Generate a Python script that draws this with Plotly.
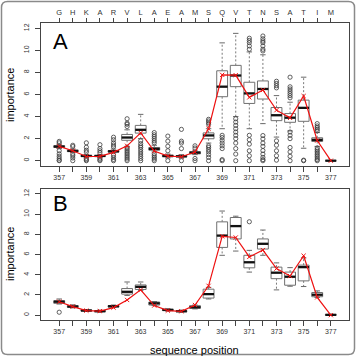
import plotly.graph_objects as go

# ---------------- data ----------------
positions = list(range(357, 378))
residues = ["G", "H", "K", "A", "R", "V", "L", "A", "E", "A", "M",
            "S", "Q", "V", "T", "N", "S", "A", "T", "I", "M"]
tick_labels = [str(p) if p % 2 == 1 else "" for p in positions]
y_ticks = [0, 2, 4, 6, 8, 10, 12]

# Panel A
a_q1 = [1.20, 0.82, 0.38, 0.38, 0.78, 1.85, 2.50, 0.95, 0.36, 0.34, 0.62, 1.99, 5.80, 6.71, 5.19, 5.59, 3.63, 3.48, 3.57, 1.74, 0.0]
a_med = [1.28, 0.89, 0.43, 0.43, 0.85, 2.10, 2.80, 1.07, 0.43, 0.40, 0.73, 2.29, 6.71, 7.72, 6.10, 6.50, 4.12, 3.90, 4.79, 1.89, 0.0]
a_q3 = [1.36, 0.95, 0.48, 0.48, 0.92, 2.38, 3.20, 1.20, 0.50, 0.46, 0.82, 2.52, 8.15, 8.64, 7.11, 7.23, 4.82, 4.27, 5.49, 2.08, 0.0]
a_low = [1.10, 0.75, 0.30, 0.30, 0.70, 1.30, 2.00, 0.80, 0.25, 0.25, 0.55, 1.60, 2.90, 4.00, 2.90, 3.36, 2.14, 2.70, 1.13, 1.30, 0.0]
a_high = [1.50, 1.05, 0.55, 0.55, 1.05, 2.80, 4.20, 1.40, 0.60, 0.55, 0.95, 2.90, 10.68, 11.54, 9.86, 9.60, 5.90, 5.30, 7.57, 2.55, 0.0]
a_mean = [1.30, 0.90, 0.38, 0.40, 0.76, 1.35, 2.52, 0.88, 0.42, 0.36, 0.78, 2.90, 7.78, 7.75, 5.74, 6.41, 4.58, 3.88, 5.86, 1.83, 0.0]
a_outliers = [
    [1.75, 1.62, 0.90, 0.62, 0.40, 0.22, 0.05, 0.0],
    [1.40, 1.28, 0.60, 0.45, 0.25, 0.0],
    [1.62, 1.22, 0.95, 0.78, 0.20, 0.08, 0.0],
    [1.45, 1.10, 0.90, 0.72, 0.22, 0.08, 0.0],
    [2.13, 1.90, 1.62, 1.42, 1.25, 0.50, 0.30, 0.12, 0.0],
    [3.80, 3.40, 3.30, 3.10, 1.20, 1.05, 0.90, 0.75, 0.60, 0.45, 0.30, 0.15, 0.0],
    [1.80, 1.55, 1.35, 1.20, 1.00, 0.80, 0.60, 0.40, 0.20, 0.0],
    [2.55, 2.35, 2.18, 2.00, 1.80, 1.62, 0.62, 0.45, 0.30, 0.15, 0.0],
    [2.23, 1.77, 1.31, 0.90, 0.0],
    [2.84, 1.77, 1.60, 1.10, 0.0],
    [1.35, 1.15, 0.20, 0.0],
    [3.75, 3.60, 3.45, 3.30, 1.35, 1.20, 1.00, 0.80, 0.55, 0.30, 0.0],
    [2.30, 2.10, 1.85, 1.60, 1.35, 1.10, 0.10, 0.0],
    [3.80, 3.50, 3.20, 2.90, 2.60, 2.30, 2.00, 1.60, 1.10, 0.60, 0.0],
    [11.10, 10.90, 10.70, 10.40, 10.10, 2.30, 1.90, 1.50, 0.90, 0.45, 0.0],
    [11.30, 11.05, 10.85, 10.70, 10.40, 10.10, 9.95, 2.28, 1.98, 1.60, 1.30, 0.92, 0.60, 0.30, 0.10, 0.0],
    [7.20, 7.00, 6.80, 6.60, 1.80, 1.40, 0.90, 0.45, 0.05],
    [7.57, 6.70, 6.50, 6.30, 6.10, 5.90, 5.70, 2.60, 2.30, 2.00, 1.20, 0.80, 0.40, 0.0],
    [0.05, 0.0],
    [3.36, 3.15, 3.00, 2.85, 2.70, 1.15, 1.00, 0.85, 0.70, 0.55, 0.40, 0.25, 0.10, 0.0],
    [],
]

# Panel B
b_q1 = [1.17, 0.78, 0.40, 0.34, 0.80, 2.08, 2.54, 1.00, 0.45, 0.33, 0.68, 1.69, 6.70, 7.54, 4.68, 6.54, 3.61, 2.96, 3.39, 1.82, 0.0]
b_med = [1.33, 0.85, 0.46, 0.39, 0.88, 2.31, 2.80, 1.17, 0.52, 0.39, 0.78, 2.08, 7.87, 8.81, 5.23, 7.06, 4.20, 3.80, 4.75, 2.02, 0.03]
b_q3 = [1.43, 0.95, 0.52, 0.45, 0.95, 2.63, 2.99, 1.30, 0.58, 0.45, 0.94, 2.57, 9.23, 9.66, 5.92, 7.54, 4.75, 4.26, 4.95, 2.24, 0.06]
b_low = [1.10, 0.72, 0.36, 0.30, 0.75, 1.95, 2.45, 0.95, 0.40, 0.30, 0.62, 1.60, 5.92, 6.34, 4.26, 5.92, 2.50, 2.86, 2.83, 1.75, 0.0]
b_high = [1.60, 1.02, 0.56, 0.50, 1.00, 3.28, 3.28, 1.35, 0.62, 0.50, 1.00, 2.75, 10.30, 9.79, 6.41, 8.42, 5.17, 4.70, 5.66, 2.40, 0.08]
b_mean = [1.33, 0.85, 0.45, 0.40, 0.75, 1.50, 2.50, 0.95, 0.45, 0.38, 1.00, 2.90, 7.80, 7.68, 5.76, 6.44, 4.61, 3.87, 5.88, 1.76, 0.0]
b_outliers = [[0.29]] + [[] for _ in range(13)] + [[9.24]] + [[] for _ in range(6)]

# ---------------- figure ----------------
W = H = 357
FONT = "Liberation Sans, Arial, Helvetica, sans-serif"
AX = "#444444"
BOXW = 0.8

fig = go.Figure()


def add_panel(q1, med, q3, low, high, mean, outliers, xa, ya):
    fig.add_trace(go.Box(
        x=positions, q1=q1, median=med, q3=q3, lowerfence=q1, upperfence=q3,
        width=BOXW, whiskerwidth=0, boxpoints=False,
        fillcolor="rgba(255,255,255,0)", line=dict(color="#707070", width=1),
        xaxis=xa, yaxis=ya, showlegend=False, hoverinfo="skip"))
    # whiskers (dashed) and staples
    wx, wy, cx, cy = [], [], [], []
    for p, a, b, lo, hi in zip(positions, q1, q3, low, high):
        wx += [p, p, None, p, p, None]
        wy += [b, hi, None, a, lo, None]
        cx += [p - BOXW / 4, p + BOXW / 4, None, p - BOXW / 4, p + BOXW / 4, None]
        cy += [hi, hi, None, lo, lo, None]
    fig.add_trace(go.Scatter(x=wx, y=wy, mode="lines", xaxis=xa, yaxis=ya,
                             line=dict(color="#7a7a7a", width=1, dash="2px,2px"),
                             showlegend=False, hoverinfo="skip"))
    fig.add_trace(go.Scatter(x=cx, y=cy, mode="lines", xaxis=xa, yaxis=ya,
                             line=dict(color="#6a6a6a", width=1),
                             showlegend=False, hoverinfo="skip"))
    # medians
    mx, my = [], []
    for p, m in zip(positions, med):
        mx += [p - BOXW / 2, p + BOXW / 2, None]
        my += [m, m, None]
    fig.add_trace(go.Scatter(x=mx, y=my, mode="lines", xaxis=xa, yaxis=ya,
                             line=dict(color="#111111", width=2.3),
                             showlegend=False, hoverinfo="skip"))
    # outliers
    ox, oy = [], []
    for p, outs in zip(positions, outliers):
        for v in outs:
            ox.append(p)
            oy.append(v)
    fig.add_trace(go.Scatter(x=ox, y=oy, mode="markers", xaxis=xa, yaxis=ya,
                             marker=dict(symbol="circle-open", size=4.2,
                                         color="#3a3a3a", line=dict(width=0.8)),
                             showlegend=False, hoverinfo="skip"))
    # mean line
    fig.add_trace(go.Scatter(x=positions, y=mean, mode="lines+markers",
                             xaxis=xa, yaxis=ya,
                             line=dict(color="#ee1111", width=1.2),
                             marker=dict(symbol="x-thin", size=4.2,
                                         line=dict(color="#ee1111", width=1)),
                             showlegend=False, hoverinfo="skip"))


add_panel(a_q1, a_med, a_q3, a_low, a_high, a_mean, a_outliers, "x", "y")
add_panel(b_q1, b_med, b_q3, b_low, b_high, b_mean, b_outliers, "x2", "y2")

# invisible trace so the top residue axis of panel A is drawn
fig.add_trace(go.Scatter(x=positions, y=a_mean, mode="markers", xaxis="x3", yaxis="y",
                         marker=dict(opacity=0), showlegend=False, hoverinfo="skip"))

xr = [355.66, 378.34]
yr = [-0.48, 12.48]
xdom = [41 / W, 349 / W]

common_x = dict(range=xr, tickmode="array", tickvals=positions, ticks="outside",
                ticklen=5, tickcolor=AX, tickwidth=1, showline=True, linecolor=AX,
                linewidth=1, mirror=True, showgrid=False, zeroline=False,
                tickfont=dict(size=7, color="#333333", family=FONT))
common_y = dict(range=yr, tickmode="array", tickvals=y_ticks, ticks="outside",
                ticklen=5, tickcolor=AX, tickwidth=1, showline=True, linecolor=AX,
                linewidth=1, mirror=True, showgrid=False, zeroline=False,
                tickangle=-90, ticklabelstandoff=3,
                tickfont=dict(size=7, color="#333333", family=FONT))

fig.update_layout(
    width=W, height=H, margin=dict(l=0, r=0, t=0, b=0),
    paper_bgcolor="white", plot_bgcolor="white", hovermode=False,
    font=dict(family=FONT),
    xaxis=dict(common_x, domain=xdom, anchor="y", ticktext=tick_labels),
    yaxis=dict(common_y, domain=[1 - 166 / H, 1 - 23 / H], anchor="x"),
    xaxis2=dict(common_x, domain=xdom, anchor="y2", ticktext=tick_labels),
    yaxis2=dict(common_y, domain=[1 - 320 / H, 1 - 189 / H], anchor="x2"),
    xaxis3=dict(range=xr, overlaying="x", side="top", anchor="y",
                tickmode="array", tickvals=positions, ticktext=residues,
                ticks="outside", ticklen=4, tickcolor=AX, tickwidth=1,
                showline=False, showgrid=False, zeroline=False,
                tickfont=dict(size=7.5, color="#333333", family=FONT)),
)

annotations = [
    dict(text="A", x=51 / W, y=1 - 41 / H, xanchor="left", yanchor="middle",
         font=dict(size=22, color="black", family=FONT)),
    dict(text="B", x=51 / W, y=1 - 203 / H, xanchor="left", yanchor="middle",
         font=dict(size=22, color="black", family=FONT)),
    dict(text="importance", x=10 / W, y=1 - 95 / H, textangle=-90,
         xanchor="center", yanchor="middle",
         font=dict(size=11, color="black", family=FONT)),
    dict(text="importance", x=10 / W, y=1 - 254 / H, textangle=-90,
         xanchor="center", yanchor="middle",
         font=dict(size=11, color="black", family=FONT)),
    dict(text="sequence position", x=195 / W, y=1 - 350 / H,
         xanchor="center", yanchor="middle",
         font=dict(size=11, color="black", family=FONT)),
]
for a in annotations:
    a.update(xref="paper", yref="paper", showarrow=False)
fig.update_layout(annotations=annotations)

# outer rounded frame
x0, x1 = 1.5 / W, 354.5 / W
y0, y1 = 1 - 354.5 / H, 1 - 1.5 / H
r = 6 / W
path = (f"M {x0 + r},{y1} L {x1 - r},{y1} Q {x1},{y1} {x1},{y1 - r} "
        f"L {x1},{y0 + r} Q {x1},{y0} {x1 - r},{y0} L {x0 + r},{y0} "
        f"Q {x0},{y0} {x0},{y0 + r} L {x0},{y1 - r} Q {x0},{y1} {x0 + r},{y1} Z")
fig.add_shape(type="path", path=path, xref="paper", yref="paper",
              line=dict(color="#8a8a8a", width=1.5))

fig.write_html("out.html")
